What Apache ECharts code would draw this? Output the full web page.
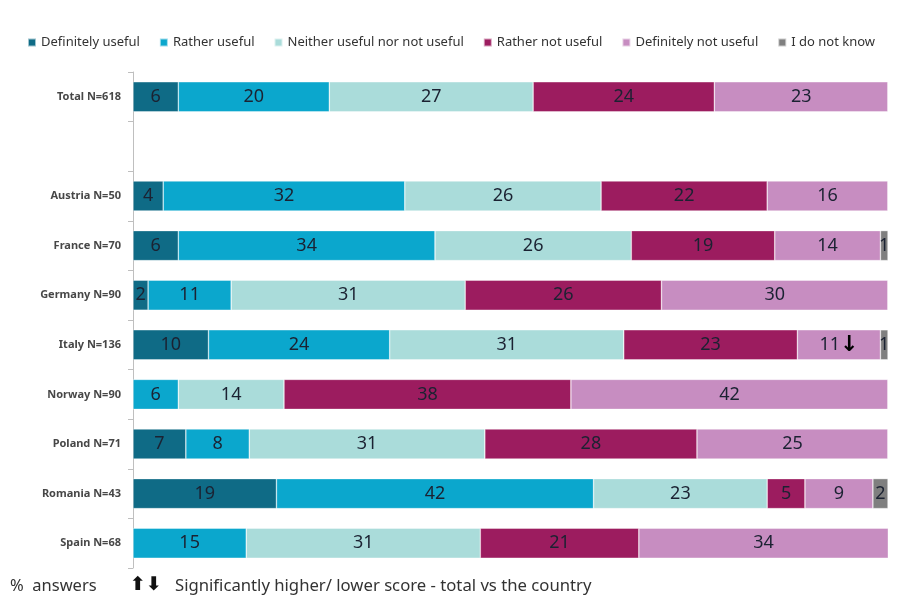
<!DOCTYPE html>
<html>
<head>
<meta charset="utf-8">
<script src="https://cdn.jsdelivr.net/npm/echarts@6/dist/echarts.min.js"></script>
<style>html,body{margin:0;padding:0;background:#fff;}#c{width:899px;height:601px;}</style>
</head>
<body>
<div id="c"></div>
<script>
const categories = ['Total N=618', ' ', 'Austria N=50', 'France N=70', 'Germany N=90', 'Italy N=136', 'Norway N=90', 'Poland N=71', 'Romania N=43', 'Spain N=68'];
const seriesNames = ['Definitely useful', 'Rather useful', 'Neither useful nor not useful', 'Rather not useful', 'Definitely not useful', 'I do not know'];
const definitelyUseful = [6, null, 4, 6, 2, 10, 0, 7, 19, 0];
const ratherUseful     = [20, null, 32, 34, 11, 24, 6, 8.4, 42, 15];
const neither          = [27, null, 26, 26, 31, 31, 14, 31.2, 23, 31];
const ratherNot        = [24, null, 22, 19, 26, 23, 38, 28.1, 5, 21];
const definitelyNot    = [23, null, 16, 14, 30, 11, 42, 25.3, 9, 34];
const doNotKnow        = [0, null, 0, 1, 0, 1, 0, 0, 2, 0];
const definitelyNotSig = ['', '', '', '', '', '↓', '', '', '', ''];
const colors = ['#0f6b86', '#0ba7cd', '#aadcda', '#9c1c5f', '#c78dc1', '#7f7f7f'];

const allData = [definitelyUseful, ratherUseful, neither, ratherNot, definitelyNot, doNotKnow];
const FONT = '"Noto Sans", "Open Sans", sans-serif';

const series = allData.map((arr, si) => ({
  name: seriesNames[si],
  type: 'bar',
  stack: 'all',
  barWidth: 30,
  data: arr,
  itemStyle: { color: colors[si], borderColor: 'rgba(255,255,255,0.6)', borderWidth: 0.6 },
  label: {
    show: true,
    position: 'inside',
    fontFamily: FONT,
    fontSize: 18,
    color: '#1b2232',
    formatter: p => {
      if (!p.value) return '';
      const v = Math.round(p.value);
      if (si === 4 && definitelyNotSig[p.dataIndex]) return v + '{a|' + definitelyNotSig[p.dataIndex] + '}';
      return String(v);
    },
    rich: { a: { fontSize: 22, fontWeight: 'bold', color: '#000', fontFamily: '"DejaVu Sans", sans-serif' } }
  },
  emphasis: { disabled: true }
}));

const chart = echarts.init(document.getElementById('c'));
chart.setOption({
  animation: false,
  color: colors,
  legend: {
    top: 31, left: 22, width: 880,
    itemWidth: 8, itemHeight: 8, itemGap: 19,
    icon: 'rect',
    textStyle: { fontFamily: FONT, fontSize: 13, color: '#333' },
    data: seriesNames
  },
  grid: { left: 133, right: 11, top: 72, bottom: 33 },
  xAxis: { type: 'value', min: 0, max: 100, show: false },
  yAxis: {
    type: 'category', data: categories, inverse: true,
    axisLine: { show: true, lineStyle: { color: '#bfbfbf', width: 1 } },
    axisTick: { show: true, length: 5, lineStyle: { color: '#bfbfbf' } },
    axisLabel: { fontFamily: FONT, fontSize: 11, fontWeight: 'bold', color: '#474747', margin: 12 }
  },
  series: series,
  graphic: [
    { type: 'text', left: 10, top: 578, style: { text: '%  answers', fontFamily: FONT, fontSize: 16.5, fill: '#333' } },
    { type: 'text', left: 130, top: 576, style: { text: '⬆⬇', fontFamily: '"DejaVu Sans", sans-serif', fontSize: 19, fontWeight: 'bold', fill: '#111' } },
    { type: 'text', left: 175, top: 578, style: { text: 'Significantly higher/ lower score - total vs the country', fontFamily: FONT, fontSize: 16.7, fill: '#333' } }
  ]
});
</script>
</body>
</html>
